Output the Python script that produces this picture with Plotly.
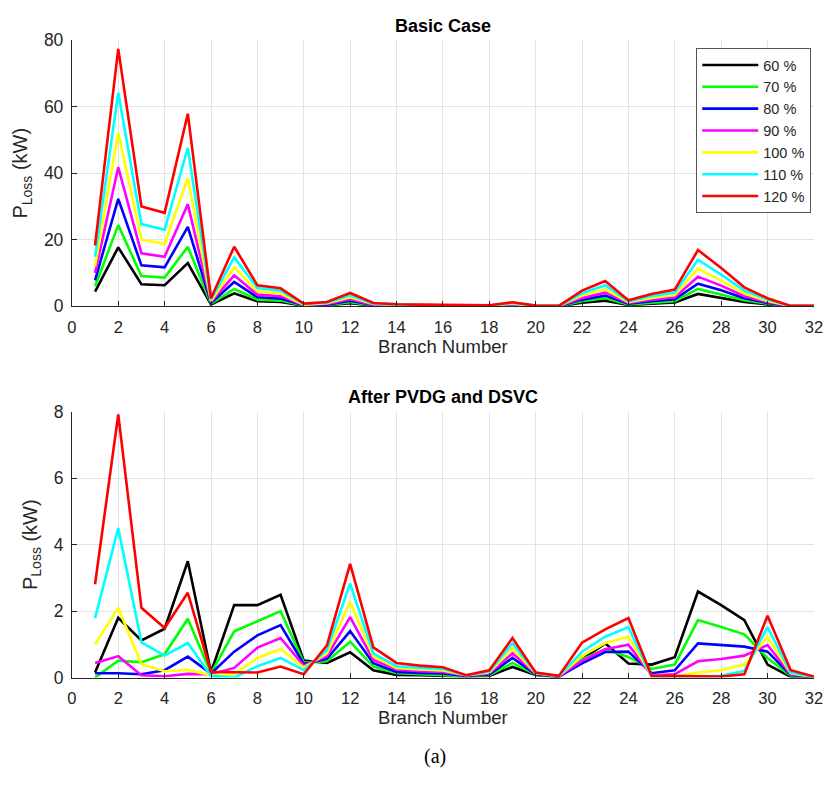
import plotly.graph_objects as go

# Branch numbers of the 33-bus feeder
branches = list(range(1, 33))

# Loading levels and their line colours
load_levels = ["60 %", "70 %", "80 %", "90 %", "100 %", "110 %", "120 %"]
line_colors = ["#000000", "#00ff00", "#0000ff", "#ff00ff", "#ffff00", "#00ffff", "#ff0000"]

# Branch power loss (kW) - basic case
basic_60 = [4.4, 17.7, 6.6, 6.3, 13.0, 0.55, 3.9, 1.5, 1.3, 0.18, 0.3, 0.9, 0.23, 0.14, 0.11, 0.09,
            0.05, 0.07, 0.27, 0.05, 0.02, 1.1, 1.7, 0.4, 0.85, 1.15, 3.7, 2.6, 1.3, 0.55, 0.02, 0.02]
basic_70 = [6.0, 24.4, 9.1, 8.6, 17.9, 0.75, 5.2, 2.0, 1.7, 0.25, 0.4, 1.25, 0.3, 0.2, 0.15, 0.12,
            0.06, 0.09, 0.37, 0.06, 0.03, 1.5, 2.4, 0.55, 1.15, 1.55, 5.2, 3.6, 1.8, 0.75, 0.03, 0.03]
basic_80 = [7.8, 32.3, 12.3, 11.7, 23.9, 1.0, 7.3, 2.7, 2.3, 0.3, 0.5, 1.7, 0.4, 0.25, 0.2, 0.17,
            0.08, 0.12, 0.5, 0.08, 0.04, 2.0, 3.2, 0.75, 1.5, 2.1, 6.8, 4.8, 2.4, 1.0, 0.04, 0.04]
basic_90 = [10.0, 41.8, 15.9, 14.9, 30.7, 1.3, 9.3, 3.5, 3.0, 0.4, 0.7, 2.1, 0.5, 0.3, 0.3, 0.2,
            0.1, 0.2, 0.6, 0.1, 0.05, 2.5, 4.1, 1.0, 2.0, 2.7, 8.9, 6.2, 3.0, 1.3, 0.05, 0.05]
basic_100 = [12.0, 52.2, 20.0, 18.8, 38.6, 1.6, 11.7, 4.5, 3.8, 0.5, 0.9, 2.7, 0.7, 0.4, 0.3, 0.3,
             0.1, 0.2, 0.8, 0.1, 0.1, 3.2, 5.1, 1.2, 2.5, 3.4, 11.3, 7.7, 3.8, 1.6, 0.1, 0.1]
basic_110 = [14.9, 64.2, 24.7, 23.0, 47.6, 2.0, 14.7, 5.5, 4.7, 0.7, 1.1, 3.3, 0.8, 0.5, 0.4, 0.3,
             0.2, 0.2, 1.0, 0.2, 0.1, 3.9, 6.3, 1.5, 3.1, 4.1, 14.0, 9.5, 4.7, 2.0, 0.1, 0.1]
basic_120 = [18.3, 77.4, 30.0, 28.1, 57.9, 2.4, 17.9, 6.3, 5.4, 0.8, 1.3, 4.0, 1.0, 0.6, 0.5, 0.4,
             0.2, 0.3, 1.2, 0.2, 0.1, 4.7, 7.6, 1.8, 3.7, 5.0, 16.9, 11.5, 5.7, 2.4, 0.1, 0.1]

# Branch power loss (kW) - after PVDG and DSVC allocation
after_60 = [0.15, 1.8, 1.12, 1.47, 3.5, 0.16, 2.18, 2.18, 2.49, 0.51, 0.44, 0.76, 0.22, 0.08, 0.07, 0.06,
            0.03, 0.05, 0.32, 0.08, 0.02, 0.54, 1.03, 0.42, 0.39, 0.61, 2.59, 2.18, 1.73, 0.39, 0.02, 0.01]
after_70 = [0.0, 0.51, 0.46, 0.7, 1.77, 0.13, 1.39, 1.69, 2.0, 0.45, 0.49, 1.08, 0.33, 0.13, 0.1, 0.09,
            0.04, 0.07, 0.44, 0.09, 0.03, 0.55, 0.85, 0.62, 0.26, 0.39, 1.73, 1.52, 1.3, 0.59, 0.05, 0.01]
after_80 = [0.13, 0.13, 0.1, 0.22, 0.63, 0.12, 0.78, 1.27, 1.58, 0.41, 0.56, 1.4, 0.43, 0.17, 0.14, 0.12,
            0.05, 0.09, 0.59, 0.1, 0.03, 0.43, 0.77, 0.78, 0.13, 0.22, 1.03, 0.97, 0.93, 0.78, 0.08, 0.01]
after_90 = [0.44, 0.64, 0.07, 0.04, 0.11, 0.1, 0.29, 0.9, 1.19, 0.36, 0.64, 1.82, 0.53, 0.24, 0.19, 0.17,
            0.06, 0.12, 0.73, 0.12, 0.04, 0.5, 0.85, 0.99, 0.07, 0.1, 0.49, 0.56, 0.66, 0.98, 0.1, 0.01]
after_100 = [1.0, 2.1, 0.4, 0.19, 0.23, 0.07, 0.1, 0.59, 0.86, 0.3, 0.73, 2.28, 0.64, 0.29, 0.24, 0.21,
             0.07, 0.15, 0.88, 0.13, 0.04, 0.65, 1.04, 1.23, 0.05, 0.03, 0.15, 0.22, 0.39, 1.22, 0.13, 0.02]
after_110 = [1.79, 4.5, 1.06, 0.66, 1.04, 0.05, 0.0, 0.34, 0.59, 0.22, 0.83, 2.83, 0.73, 0.34, 0.29, 0.26,
             0.07, 0.18, 1.03, 0.14, 0.04, 0.78, 1.23, 1.52, 0.02, 0.0, 0.02, 0.05, 0.2, 1.52, 0.15, 0.02]
after_120 = [2.81, 7.92, 2.1, 1.49, 2.55, 0.17, 0.16, 0.15, 0.33, 0.1, 0.97, 3.42, 0.91, 0.44, 0.36, 0.31,
             0.07, 0.22, 1.19, 0.15, 0.05, 1.05, 1.45, 1.79, 0.05, 0.05, 0.03, 0.03, 0.1, 1.86, 0.22, 0.03]

basic_series = [basic_60, basic_70, basic_80, basic_90, basic_100, basic_110, basic_120]
after_series = [after_60, after_70, after_80, after_90, after_100, after_110, after_120]

W, H = 836, 785


def px(x):
    return x / W


def py(y):
    return 1 - y / H


TEXT = "#262626"
GRID = "#e3e3e3"
FONT = "Liberation Sans, Arial, sans-serif"

fig = go.Figure()

for name, color, vals in zip(load_levels, line_colors, basic_series):
    fig.add_trace(go.Scatter(x=branches, y=vals, mode="lines", name=name,
                             line=dict(color=color, width=2.6),
                             xaxis="x", yaxis="y", legendgroup=name))
for name, color, vals in zip(load_levels, line_colors, after_series):
    fig.add_trace(go.Scatter(x=branches, y=vals, mode="lines", name=name,
                             line=dict(color=color, width=2.6),
                             xaxis="x2", yaxis="y2", legendgroup=name, showlegend=False))

x_dom = [px(68), px(822.7)]
top_dom = [py(304), py(31)]
bot_dom = [py(685), py(412.3)]

common_x = dict(range=[0, 32], tickmode="array", tickvals=list(range(0, 33, 2)),
                showgrid=True, gridcolor=GRID, gridwidth=1, zeroline=False,
                showline=True, linecolor=TEXT, linewidth=1,
                ticks="inside", ticklen=5, tickcolor=TEXT,
                tickfont=dict(family=FONT, size=16.5, color=TEXT),
                ticklabelstandoff=6,
                title=dict(text="Branch Number", font=dict(family=FONT, size=18.5, color=TEXT), standoff=4))
common_y = dict(showgrid=True, gridcolor=GRID, gridwidth=1, zeroline=False,
                showline=True, linecolor=TEXT, linewidth=1,
                ticks="inside", ticklen=5, tickcolor=TEXT,
                tickfont=dict(family=FONT, size=17.5, color=TEXT),
                ticklabelstandoff=4,
                title=dict(text="P<sub>Loss</sub> (kW)", font=dict(family=FONT, size=20, color=TEXT), standoff=10))

fig.update_layout(
    width=W, height=H,
    margin=dict(l=0, r=0, t=0, b=0),
    paper_bgcolor="white", plot_bgcolor="white",
    showlegend=True,
    xaxis=dict(domain=x_dom, anchor="y", **common_x),
    yaxis=dict(domain=top_dom, anchor="x", range=[0, 80],
               tickvals=[0, 20, 40, 60, 80], **common_y),
    xaxis2=dict(domain=x_dom, anchor="y2", **common_x),
    yaxis2=dict(domain=bot_dom, anchor="x2", range=[0, 8],
                tickvals=[0, 2, 4, 6, 8], **common_y),
    legend=dict(x=px(703), y=py(39), xanchor="left", yanchor="top",
                bgcolor="white", bordercolor="#555555", borderwidth=1,
                font=dict(family=FONT, size=14.5, color=TEXT),
                itemwidth=56, tracegroupgap=0),
    annotations=[
        dict(text="<b>Basic Case</b>", x=0.5 * (x_dom[0] + x_dom[1]), y=py(16.5),
             xref="paper", yref="paper", showarrow=False, xanchor="center", yanchor="middle",
             font=dict(family=FONT, size=18, color="#000000")),
        dict(text="<b>After PVDG and DSVC</b>", x=0.5 * (x_dom[0] + x_dom[1]), y=py(397),
             xref="paper", yref="paper", showarrow=False, xanchor="center", yanchor="middle",
             font=dict(family=FONT, size=18, color="#000000")),
        dict(text="(a)", x=px(437), y=py(766),
             xref="paper", yref="paper", showarrow=False, xanchor="center", yanchor="middle",
             font=dict(family="Liberation Serif, Times New Roman, serif", size=20, color="#000000")),
    ],
)

# The figure fills the whole window: drop the page's default body margin.
fig.write_html(
    "out.html",
    post_script="document.body.style.margin='0';"
                "document.documentElement.style.overflow='hidden';",
)
